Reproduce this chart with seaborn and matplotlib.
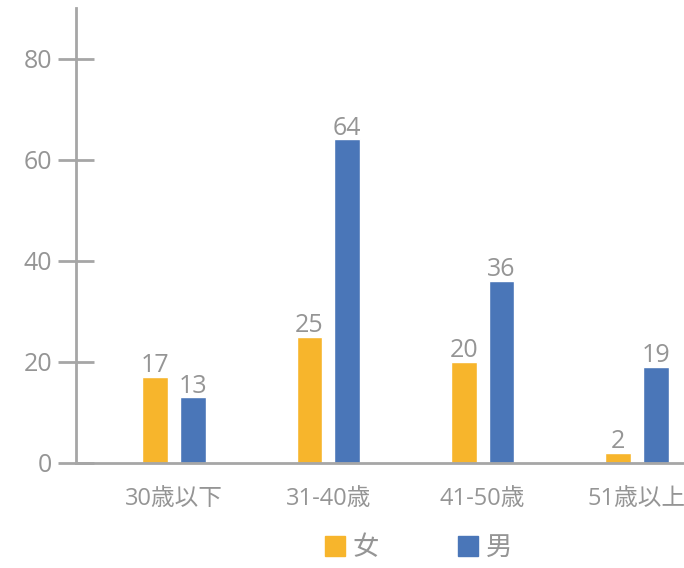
import pandas as pd
import matplotlib.pyplot as plt
import seaborn as sns

# data
age_groups = ["30歳以下", "31-40歳", "41-50歳", "51歳以上"]
female = [17, 25, 20, 2]
male = [13, 64, 36, 19]
sexes = ["女", "男"]

# config
FEMALE_C = "#F7B52C"
MALE_C = "#4A76B8"
TXT_C = "#959595"
AX_C = "#A6A6A6"

df = pd.DataFrame({
    "age": age_groups * 2,
    "sex": [sexes[0]] * len(age_groups) + [sexes[1]] * len(age_groups),
    "count": female + male,
})

sns.set_style("white")
plt.rcParams["font.family"] = ["Open Sans", "Noto Sans CJK TC", "DejaVu Sans"]

fig = plt.figure(figsize=(6.84, 5.68), dpi=100)
ax = fig.add_axes([76 / 684, 105 / 568, 1 - 76 / 684, (463 - 8) / 568])

sns.barplot(data=df, x="age", y="count", hue="sex", order=age_groups,
            hue_order=sexes, palette=[FEMALE_C, MALE_C], saturation=1,
            width=0.49, gap=0.32, ax=ax, legend=False)

for cont in ax.containers:
    ax.bar_label(cont, fontsize=18, color=TXT_C, padding=-1)

ax.set_ylim(0, 90)
ax.set_xlim(-0.636, 3.305)
ax.set_yticks(range(0, 81, 20))
ax.set_xlabel("")
ax.set_ylabel("")

for s in ["top", "right"]:
    ax.spines[s].set_visible(False)
for s in ["left", "bottom"]:
    ax.spines[s].set_color(AX_C)
    ax.spines[s].set_linewidth(2)

ax.tick_params(axis="y", left=True, direction="inout", length=26, width=2,
               color=AX_C, labelcolor=TXT_C, labelsize=18, pad=4)
ax.tick_params(axis="x", bottom=False, labelcolor=TXT_C, labelsize=17, pad=14)

handles = [plt.Rectangle((0, 0), 1, 1, color=c) for c in [FEMALE_C, MALE_C]]
leg = fig.legend(handles, sexes, loc="center", bbox_to_anchor=(0.612, 0.034),
                 ncol=2, frameon=False, fontsize=19, handlelength=0.75,
                 handleheight=0.75, handletextpad=0.3, columnspacing=3.0)
for t in leg.get_texts():
    t.set_color(TXT_C)

fig.savefig("out.png", dpi=100)
